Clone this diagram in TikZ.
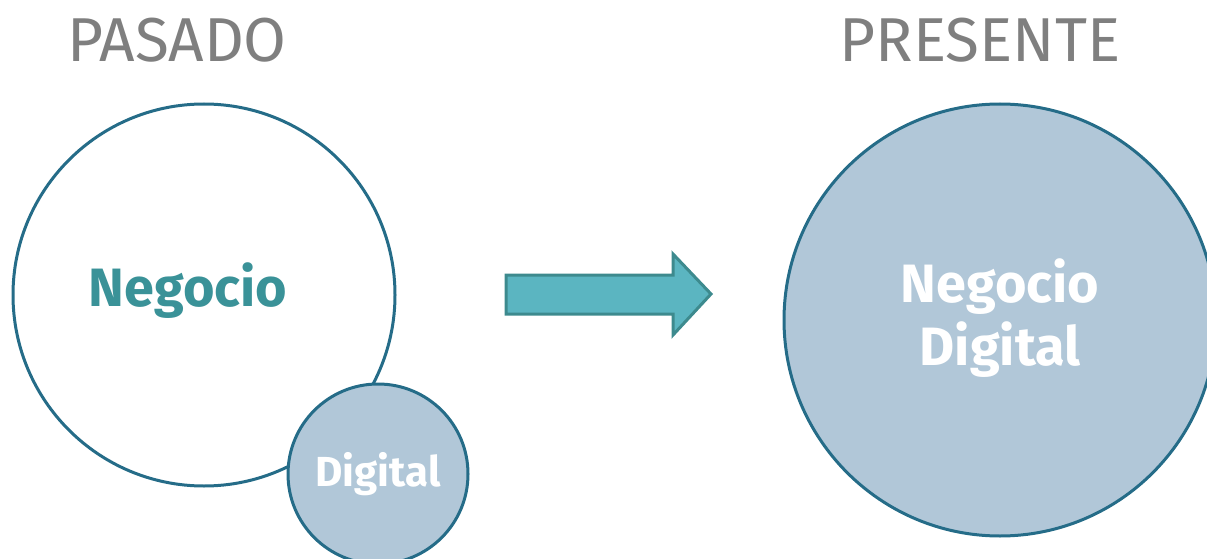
\documentclass[tikz,border=0pt]{standalone}
\usepackage{fontspec}
\setmainfont{Fira Sans}
\usepackage{tikz}
\definecolor{borde}{HTML}{256C88}
\definecolor{relleno}{HTML}{B1C7D8}
\definecolor{verdeazul}{HTML}{3A9298}
\definecolor{flecha}{HTML}{5BB5C1}
\definecolor{flechaborde}{HTML}{3D8A8E}
\definecolor{gristitulo}{HTML}{7F7F7F}

\begin{document}
\begin{tikzpicture}[x=1pt,y=-1pt,
    titulo/.style={text=gristitulo,font=\fontsize{62}{66}\selectfont},
    circulo/.style={circle,draw=borde,line width=3pt,inner sep=0pt}]
    \useasboundingbox (0,0) rectangle (1207,559);
    \node[titulo](pasado) at (177,40) {PASADO};
    \node[titulo](presente) at (980,40) {PRESENTE};
    \node[circulo,fill=white,minimum size=382pt](N) at (204,295) {};
    \node[text=verdeazul,font=\bfseries\fontsize{54}{58}\selectfont](Ntxt) at (188,291) {Negocio};
    \node[circulo,fill=relleno,minimum size=180pt](D) at (378,474)
        {\textcolor{white}{\bfseries\fontsize{42}{46}\selectfont Digital}};
    \node[circulo,fill=relleno,minimum size=432pt](ND) at (1000,320) {};
    \node[text=white,align=center,font=\bfseries\fontsize{54}{63}\selectfont](NDtxt) at (1000,318) {Negocio\\Digital};
    \draw[draw=flechaborde,fill=flecha,line width=3pt,line join=miter]
      (506,275) -- (673,275) -- (673,254) -- (711,294) -- (673,335) -- (673,314) -- (506,314) -- cycle;
  \end{tikzpicture}
\end{document}
